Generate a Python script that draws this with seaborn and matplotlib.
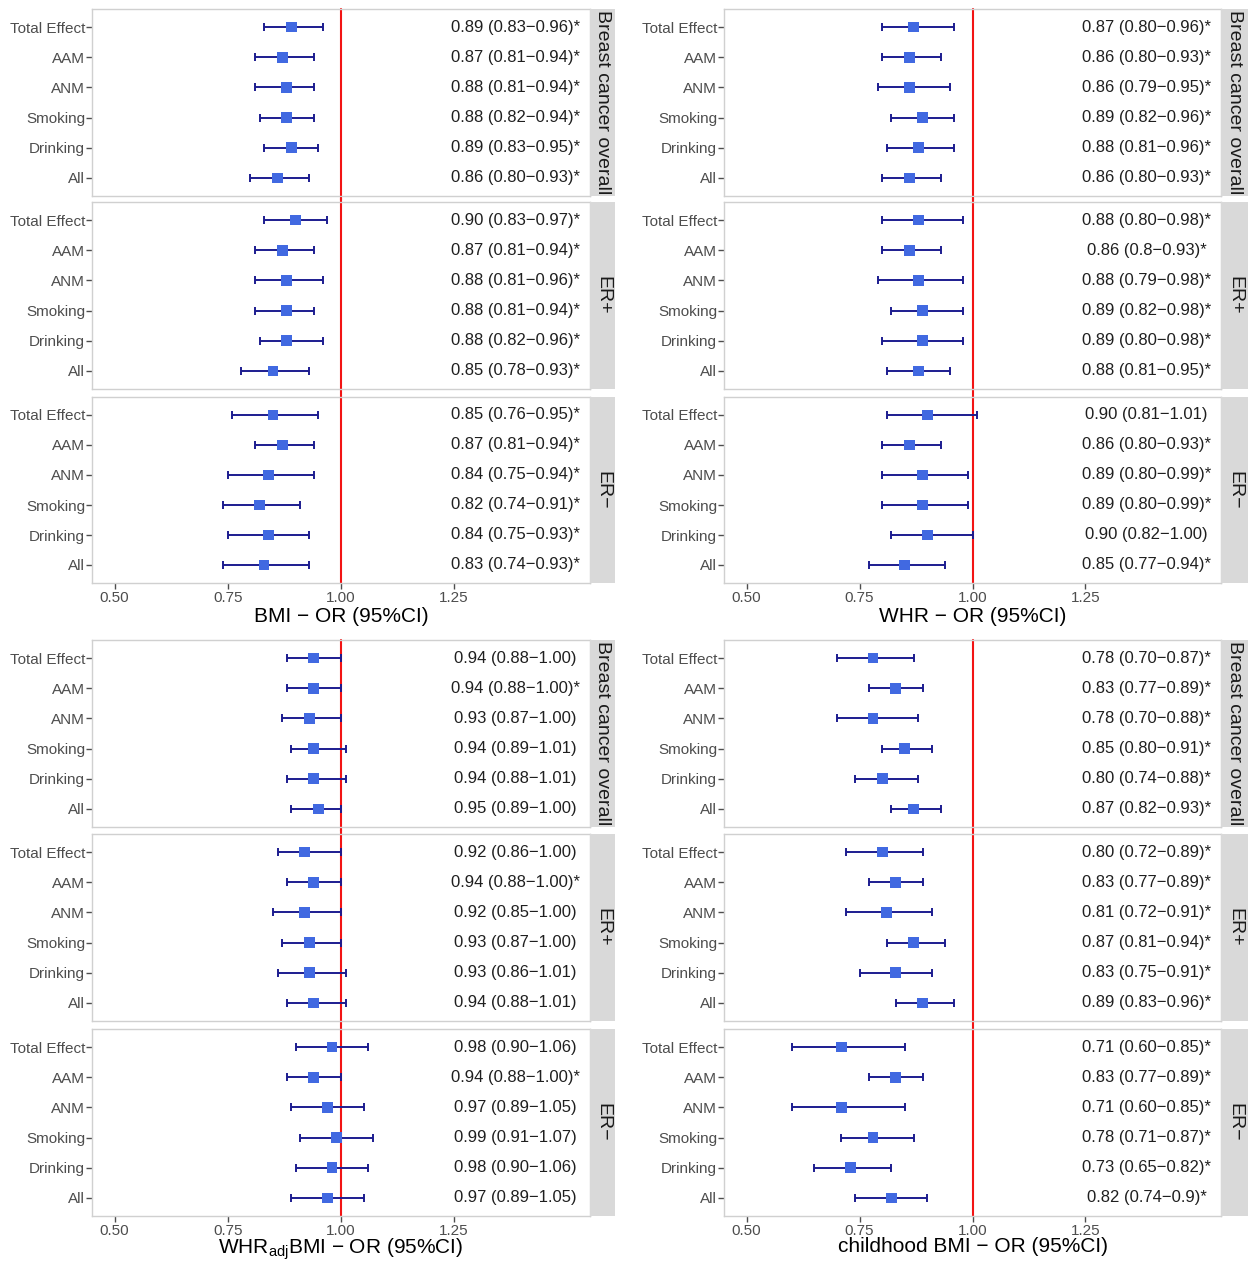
import re
import numpy as np
import pandas as pd
import matplotlib
matplotlib.use("Agg")
import matplotlib.pyplot as plt
import seaborn as sns

# ---- data -------------------------------------------------------------
methods = ["Total Effect", "AAM", "ANM", "Smoking", "Drinking", "All"]
outcomes = ["Breast cancer overall", "ER+", "ER\u2212"]
exposures = ["BMI", "WHR", "WHRadjBMI", "childhood BMI"]
xlabels = [
    "BMI \u2212 OR (95%CI)",
    "WHR \u2212 OR (95%CI)",
    "WHR$_\\mathregular{adj}$BMI \u2212 OR (95%CI)",
    "childhood BMI \u2212 OR (95%CI)",
]

# OR (95% CI) per outcome, rows in the order of `methods`; * marks significance
bmi_labels = [
    ["0.89 (0.83-0.96)*", "0.87 (0.81-0.94)*", "0.88 (0.81-0.94)*",
     "0.88 (0.82-0.94)*", "0.89 (0.83-0.95)*", "0.86 (0.80-0.93)*"],
    ["0.90 (0.83-0.97)*", "0.87 (0.81-0.94)*", "0.88 (0.81-0.96)*",
     "0.88 (0.81-0.94)*", "0.88 (0.82-0.96)*", "0.85 (0.78-0.93)*"],
    ["0.85 (0.76-0.95)*", "0.87 (0.81-0.94)*", "0.84 (0.75-0.94)*",
     "0.82 (0.74-0.91)*", "0.84 (0.75-0.93)*", "0.83 (0.74-0.93)*"],
]
whr_labels = [
    ["0.87 (0.80-0.96)*", "0.86 (0.80-0.93)*", "0.86 (0.79-0.95)*",
     "0.89 (0.82-0.96)*", "0.88 (0.81-0.96)*", "0.86 (0.80-0.93)*"],
    ["0.88 (0.80-0.98)*", "0.86 (0.8-0.93)*", "0.88 (0.79-0.98)*",
     "0.89 (0.82-0.98)*", "0.89 (0.80-0.98)*", "0.88 (0.81-0.95)*"],
    ["0.90 (0.81-1.01)", "0.86 (0.80-0.93)*", "0.89 (0.80-0.99)*",
     "0.89 (0.80-0.99)*", "0.90 (0.82-1.00)", "0.85 (0.77-0.94)*"],
]
whradj_labels = [
    ["0.94 (0.88-1.00)", "0.94 (0.88-1.00)*", "0.93 (0.87-1.00)",
     "0.94 (0.89-1.01)", "0.94 (0.88-1.01)", "0.95 (0.89-1.00)"],
    ["0.92 (0.86-1.00)", "0.94 (0.88-1.00)*", "0.92 (0.85-1.00)",
     "0.93 (0.87-1.00)", "0.93 (0.86-1.01)", "0.94 (0.88-1.01)"],
    ["0.98 (0.90-1.06)", "0.94 (0.88-1.00)*", "0.97 (0.89-1.05)",
     "0.99 (0.91-1.07)", "0.98 (0.90-1.06)", "0.97 (0.89-1.05)"],
]
child_labels = [
    ["0.78 (0.70-0.87)*", "0.83 (0.77-0.89)*", "0.78 (0.70-0.88)*",
     "0.85 (0.80-0.91)*", "0.80 (0.74-0.88)*", "0.87 (0.82-0.93)*"],
    ["0.80 (0.72-0.89)*", "0.83 (0.77-0.89)*", "0.81 (0.72-0.91)*",
     "0.87 (0.81-0.94)*", "0.83 (0.75-0.91)*", "0.89 (0.83-0.96)*"],
    ["0.71 (0.60-0.85)*", "0.83 (0.77-0.89)*", "0.71 (0.60-0.85)*",
     "0.78 (0.71-0.87)*", "0.73 (0.65-0.82)*", "0.82 (0.74-0.9)*"],
]
all_labels = [bmi_labels, whr_labels, whradj_labels, child_labels]

xticks = [0.50, 0.75, 1.00, 1.25]
xtick_labels = ["0.50", "0.75", "1.00", "1.25"]

# ---- tidy table ---------------------------------------------------------
pat = re.compile(r"([\d.]+) \(([\d.]+)-([\d.]+)\)")
rows = []
for exp, blocks in zip(exposures, all_labels):
    for out, labels in zip(outcomes, blocks):
        for i, (m, lab) in enumerate(zip(methods, labels)):
            est, lo, hi = map(float, pat.match(lab).groups())
            rows.append(dict(exposure=exp, outcome=out, method=m, row=i,
                             est=est, lo=lo, hi=hi,
                             label=lab.replace("-", "\u2212")))
df = pd.DataFrame(rows)

# ---- style -------------------------------------------------------------
sns.set_theme(style="white")
plt.rcParams["font.family"] = ["Liberation Sans", "DejaVu Sans"]
plt.rcParams["mathtext.fontset"] = "custom"
plt.rcParams["mathtext.rm"] = "Liberation Sans"
plt.rcParams["mathtext.it"] = "Liberation Sans:italic"

POINT = "#4169E1"
BAR = "#1c1c8f"
REF = "#F21414"
BORDER = "#D0D0D0"
STRIP = "#D9D9D9"
TICK_TXT = "#4D4D4D"

W, H = 1250, 1261
fig = plt.figure(figsize=(W / 100, H / 100), dpi=100)
fig.patch.set_facecolor("white")


def px_axes(x0, y0, x1, y1):
    return fig.add_axes([x0 / W, 1 - y1 / H, (x1 - x0) / W, (y1 - y0) / H])


panel_cols = [(92, 590, 615), (724, 1221, 1248)]
facet_rows = [[(9, 196), (202, 389), (397, 583)],
              [(640, 827), (834, 1021), (1029, 1216)]]

for p, (exp, xlab) in enumerate(zip(exposures, xlabels)):
    r, c = divmod(p, 2)
    x0, x1, xs = panel_cols[c]
    for f, out in enumerate(outcomes):
        y0, y1 = facet_rows[r][f]
        ax = px_axes(x0, y0, x1, y1)
        sub = df[(df.exposure == exp) & (df.outcome == out)]

        # reference line at OR = 1
        ymin = 0 if f == 2 else -0.02
        ymax = 1 if f == 0 else 1.02
        ax.axvline(1.0, ymin=ymin, ymax=ymax, color=REF, lw=1.5,
                   zorder=1, clip_on=False)

        ax.errorbar(sub.est, sub.row,
                    xerr=[sub.est - sub.lo, sub.hi - sub.est],
                    fmt="none", ecolor=BAR, elinewidth=1.4,
                    capsize=3, capthick=1.4, zorder=2)
        sns.scatterplot(data=sub, x="est", y="row", marker="s", s=60,
                        color=POINT, edgecolor="none", linewidth=0,
                        zorder=3, legend=False, ax=ax)

        for _, rw in sub.iterrows():
            ax.text(1.385, rw.row, rw.label, ha="center", va="center",
                    fontsize=12, color="#1f1f1f")

        ax.set_xlim(0.45, 1.55)
        ax.set_ylim(5.6, -0.6)
        ax.set_yticks(range(len(methods)))
        ax.set_yticklabels(methods)
        ax.set_ylabel("")
        ax.set_xticks(xticks)
        ax.tick_params(axis="y", length=4, width=1, color=TICK_TXT,
                       labelsize=11, labelcolor=TICK_TXT, pad=1, left=True)
        if f == 2:
            ax.set_xticklabels(xtick_labels)
            ax.tick_params(axis="x", length=4, width=1, color=TICK_TXT,
                           labelsize=11, labelcolor=TICK_TXT, pad=2,
                           bottom=True)
            ax.set_xlabel(xlab, fontsize=15, color="black",
                          labelpad=1 if r == 0 else -1)
        else:
            ax.tick_params(axis="x", bottom=False, labelbottom=False)
            ax.set_xlabel("")
        for s in ax.spines.values():
            s.set_color(BORDER)
            s.set_linewidth(1.0)
        ax.set_facecolor("white")

        # facet strip on the right
        sax = px_axes(x1, y0, xs, y1)
        sax.set_facecolor(STRIP)
        sax.set_xticks([])
        sax.set_yticks([])
        for s in sax.spines.values():
            s.set_visible(False)
        sax.text(0.5, 0.5, out, rotation=-90, ha="center", va="center",
                 fontsize=14, color="#1a1a1a", transform=sax.transAxes)

fig.savefig("out.png", dpi=100, facecolor="white")
